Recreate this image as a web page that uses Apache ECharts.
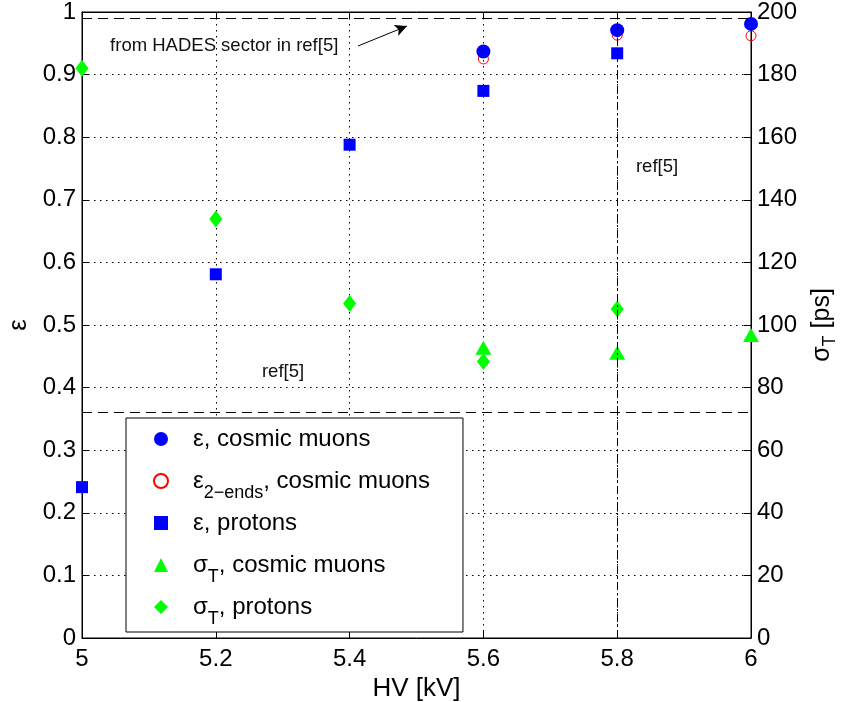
<!DOCTYPE html>
<html>
<head>
<meta charset="utf-8">
<script src="https://cdn.jsdelivr.net/npm/echarts@6/dist/echarts.min.js"></script>
<style>html,body{margin:0;padding:0;background:#fff;}#c{width:841px;height:702px;}</style>
</head>
<body>
<div id="c"></div>
<script>
// ---- data ----
const hvCosmic = [5.6, 5.8, 6.0];
const effCosmic = [0.937, 0.971, 0.981];
const eff2Ends = [0.925, 0.963, 0.962];
const hvProtons = [5.0, 5.2, 5.4, 5.6, 5.8];
const effProtons = [0.241, 0.581, 0.788, 0.874, 0.934];
const sigmaCosmic = [92.7, 91.1, 96.8];          // ps, at hvCosmic
const sigmaProtons = [182.0, 133.9, 106.9, 88.3, 105.1]; // ps, at hvProtons
const xTicks = [5, 5.2, 5.4, 5.6, 5.8, 6];
const refLinesEff = [0.363, 0.995];   // horizontal dashed reference lines
const refLineHV = 5.8;                // vertical dash-dot line
const arrowFrom = [5.4126, 0.9457];
const arrowTo = [5.4858, 0.9776];
const notes = [
  {text: 'from HADES sector in ref[5]', at: [5.042, 0.9457]},
  {text: 'ref[5]', at: [5.828, 0.7524]},
  {text: 'ref[5]', at: [5.269, 0.4249]}
];
const legendNames = ['eps_cosmic', 'eps2_cosmic', 'eps_protons', 'sig_cosmic', 'sig_protons'];

const FONT = '"Liberation Sans", Arial, Helvetica, sans-serif';
const zip = (xs, ys) => xs.map((x, i) => [x, ys[i]]);

const chart = echarts.init(document.getElementById('c'), null, {renderer: 'canvas'});

const richLegend = {
  sp: {width: 20, height: 42, lineHeight: 42},
  m: {fontSize: 24, fontFamily: FONT, color: '#000', lineHeight: 42},
  sub: {fontSize: 18, fontFamily: FONT, color: '#000', lineHeight: 18, verticalAlign: 'bottom'}
};
const legendLabels = {
  eps_cosmic: '{sp|}{m|ε, cosmic muons}',
  eps2_cosmic: '{sp|}{m|ε}{sub|2−ends}{m|, cosmic muons}',
  eps_protons: '{sp|}{m|ε, protons}',
  sig_cosmic: '{sp|}{m|σ}{sub|T}{m|, cosmic muons}',
  sig_protons: '{sp|}{m|σ}{sub|T}{m|, protons}'
};

const option = {
  animation: false,
  backgroundColor: '#fff',
  textStyle: {fontFamily: FONT, color: '#000'},
  grid: {left: 82, right: 90, top: 12, bottom: 64, outerBoundsMode: 'none', containLabel: false,
         show: true, borderColor: '#000', borderWidth: 1, backgroundColor: 'transparent'},
  xAxis: [{
    type: 'value', min: 5, max: 6, interval: 0.2,
    name: 'HV [kV]', nameLocation: 'middle', nameGap: 37,
    nameTextStyle: {fontSize: 26, fontFamily: FONT, color: '#000'},
    axisLine: {onZero: false, lineStyle: {color: '#000', width: 1}},
    axisTick: {inside: true, length: 7, lineStyle: {color: '#000'}},
    axisLabel: {fontSize: 24, fontFamily: FONT, color: '#000', margin: 9},
    splitLine: {show: true, lineStyle: {color: '#000', width: 1, type: [1.5, 4.5]}}
  }, {
    type: 'value', min: 5, max: 6, interval: 0.2, position: 'top',
    axisLine: {show: true, onZero: false, lineStyle: {color: '#000'}},
    axisTick: {inside: true, length: 7, lineStyle: {color: '#000'}},
    axisLabel: {show: false}, splitLine: {show: false}
  }],
  yAxis: [{
    type: 'value', min: 0, max: 1, interval: 0.1, position: 'left',
    name: 'ε', nameLocation: 'middle', nameGap: 46,
    nameTextStyle: {fontSize: 26, fontFamily: FONT, color: '#000'},
    axisLine: {show: true, onZero: false, lineStyle: {color: '#000'}},
    axisTick: {show: true, inside: true, length: 7, lineStyle: {color: '#000'}},
    axisLabel: {fontSize: 24, fontFamily: FONT, color: '#000', margin: 6},
    splitLine: {show: true, lineStyle: {color: '#000', width: 1, type: [1.5, 4.5]}}
  }, {
    type: 'value', min: 0, max: 200, interval: 20, position: 'right',
    name: '{m|σ}{sub|T}{m| [ps]}', nameLocation: 'middle', nameGap: 54, nameRotate: 90,
    nameTextStyle: {
      fontSize: 25, fontFamily: FONT, color: '#000',
      rich: {
        m: {fontSize: 25, fontFamily: FONT, color: '#000', lineHeight: 34},
        sub: {fontSize: 18, fontFamily: FONT, color: '#000', lineHeight: 18, verticalAlign: 'bottom'}
      }
    },
    axisLine: {show: true, onZero: false, lineStyle: {color: '#000'}},
    axisTick: {show: true, inside: true, length: 7, lineStyle: {color: '#000'}},
    axisLabel: {fontSize: 24, fontFamily: FONT, color: '#000', margin: 6},
    splitLine: {show: false}
  }],
  legend: {
    orient: 'vertical', left: 126, top: 418,
    data: legendNames,
    formatter: n => legendLabels[n],
    textStyle: {fontSize: 24, fontFamily: FONT, color: '#000', rich: richLegend,
                backgroundColor: 'rgba(255,255,255,0.01)'},
    itemWidth: 14, itemHeight: 14, itemGap: 0,
    padding: [0, 33, 4, 27],
    borderColor: '#000', borderWidth: 1, backgroundColor: '#fff',
    selectedMode: false
  },
  series: [
    {
      name: 'reflines', type: 'scatter', data: [], xAxisIndex: 0, yAxisIndex: 0, silent: true,
      markLine: {
        silent: true, symbol: ['none', 'none'], label: {show: false},
        data: [
          ...refLinesEff.map(v => ({yAxis: v, lineStyle: {color: '#000', width: 1, type: [10, 6]}})),
          {xAxis: refLineHV, lineStyle: {color: '#000', width: 1, type: [8, 3, 2, 3]}},
          [{coord: arrowFrom, symbol: 'none'}, {coord: arrowTo, symbol: 'arrow', symbolSize: [9, 12], lineStyle: {color: '#000', width: 1, type: 'solid'}}]
        ]
      },
      markPoint: {
        silent: true, symbol: 'circle', symbolSize: 0,
        label: {show: true, position: 'inside', align: 'left', verticalAlign: 'middle', fontSize: 18.5, fontFamily: FONT, color: '#111'},
        data: notes.map(n => ({coord: n.at, value: n.text, label: {formatter: n.text}}))
      }
    },
    {
      name: 'eps_protons', type: 'scatter', yAxisIndex: 0, symbol: 'rect', symbolSize: 12,
      itemStyle: {color: '#0000ff', opacity: 1}, data: zip(hvProtons, effProtons)
    },
    {
      name: 'sig_protons', type: 'scatter', yAxisIndex: 1, symbol: 'diamond', symbolSize: [13, 17],
      itemStyle: {color: '#00ff00', opacity: 1}, data: zip(hvProtons, sigmaProtons)
    },
    {
      name: 'sig_cosmic', type: 'scatter', yAxisIndex: 1, symbol: 'triangle', symbolSize: [16, 14],
      itemStyle: {color: '#00ff00', opacity: 1}, data: zip(hvCosmic, sigmaCosmic)
    },
    {
      name: 'eps2_cosmic', type: 'scatter', yAxisIndex: 0, symbol: 'circle', symbolSize: 10,
      itemStyle: {color: 'rgba(255,255,255,0)', borderColor: '#ff0000', borderWidth: 1, opacity: 1}, data: zip(hvCosmic, eff2Ends)
    },
    {
      name: 'eps_cosmic', type: 'scatter', yAxisIndex: 0, symbol: 'circle', symbolSize: 14,
      itemStyle: {color: '#0000ff', opacity: 1}, data: zip(hvCosmic, effCosmic)
    }
  ]
};
chart.setOption(option);
</script>
</body>
</html>
